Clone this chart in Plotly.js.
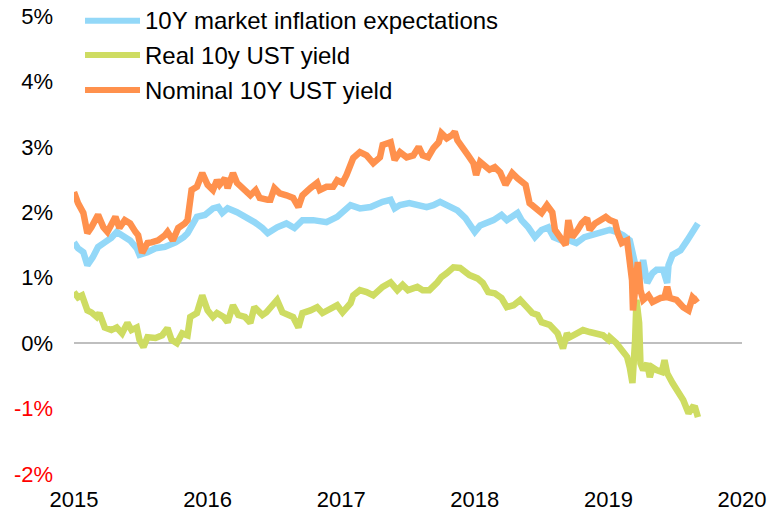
<!DOCTYPE html>
<html>
<head>
<meta charset="utf-8">
<script src="https://cdn.plot.ly/plotly-3.0.1.min.js"></script>
<style>html,body{margin:0;padding:0;background:#fff}#chart{width:771px;height:514px}</style>
</head>
<body>
<div id="chart"></div>
<script>
const seriesNames = ["10Y market inflation expectations", "Real 10y UST yield", "Nominal 10Y UST yield"];
const seriesColors = ["#93D8F8", "#CEDC62", "#FF914D"];

// Nominal 10Y UST yield (%)
const nominalX = [2015.00,2015.03,2015.07,2015.10,2015.13,2015.18,2015.22,2015.25,2015.31,2015.34,2015.38,2015.42,2015.46,2015.48,2015.51,2015.55,2015.58,2015.63,2015.68,2015.70,2015.74,2015.78,2015.83,2015.85,2015.88,2015.92,2015.96,2016.00,2016.04,2016.07,2016.09,2016.13,2016.15,2016.19,2016.22,2016.27,2016.32,2016.36,2016.39,2016.45,2016.47,2016.50,2016.54,2016.59,2016.64,2016.68,2016.71,2016.77,2016.82,2016.84,2016.89,2016.94,2016.97,2017.01,2017.04,2017.09,2017.14,2017.19,2017.24,2017.29,2017.31,2017.37,2017.40,2017.44,2017.49,2017.54,2017.58,2017.61,2017.65,2017.69,2017.73,2017.75,2017.79,2017.83,2017.85,2017.87,2017.91,2017.95,2017.99,2018.01,2018.04,2018.08,2018.11,2018.15,2018.19,2018.23,2018.28,2018.32,2018.38,2018.41,2018.47,2018.50,2018.54,2018.58,2018.60,2018.64,2018.68,2018.70,2018.73,2018.77,2018.80,2018.84,2018.86,2018.90,2018.94,2018.98,2019.01,2019.05,2019.07,2019.10,2019.14,2019.16,2019.177,2019.184,2019.21,2019.22,2019.24,2019.26,2019.30,2019.33,2019.39,2019.42,2019.44,2019.46,2019.51,2019.56,2019.60,2019.63,2019.65,2019.67];
const nominalY = [2.31,2.14,1.99,1.68,1.77,1.96,1.77,1.70,1.93,1.76,1.88,1.83,1.70,1.65,1.38,1.53,1.54,1.57,1.65,1.70,1.57,1.76,1.83,1.88,2.34,2.39,2.60,2.42,2.34,2.49,2.42,2.52,2.37,2.60,2.45,2.34,2.26,2.34,2.22,2.19,2.19,2.37,2.29,2.26,2.22,2.08,2.26,2.37,2.45,2.34,2.39,2.39,2.49,2.45,2.57,2.83,2.92,2.87,2.75,2.84,3.03,3.07,2.80,2.92,2.84,2.87,3.00,2.87,2.84,2.98,3.07,3.21,3.13,3.18,3.23,3.10,3.00,2.87,2.75,2.57,2.77,2.69,2.65,2.69,2.61,2.42,2.60,2.52,2.42,2.14,2.03,1.99,2.11,2.00,1.73,1.61,1.50,1.88,1.62,1.73,1.83,1.91,1.73,1.83,1.88,1.93,1.88,1.85,1.68,1.53,1.57,1.31,0.96,0.50,1.07,1.24,0.81,0.66,0.73,0.63,0.69,0.70,0.86,0.69,0.66,0.55,0.50,0.70,0.66,0.69];

// 10Y market inflation expectations (%)
const inflationX = [2015.00,2015.03,2015.07,2015.10,2015.14,2015.18,2015.23,2015.28,2015.32,2015.37,2015.42,2015.47,2015.49,2015.55,2015.61,2015.68,2015.76,2015.82,2015.85,2015.92,2015.98,2016.04,2016.08,2016.11,2016.15,2016.22,2016.29,2016.35,2016.41,2016.45,2016.52,2016.59,2016.65,2016.71,2016.79,2016.89,2016.97,2017.04,2017.07,2017.14,2017.22,2017.31,2017.37,2017.40,2017.44,2017.51,2017.59,2017.64,2017.69,2017.74,2017.79,2017.84,2017.87,2017.93,2017.96,2018.00,2018.04,2018.09,2018.14,2018.20,2018.24,2018.32,2018.35,2018.40,2018.45,2018.50,2018.55,2018.59,2018.65,2018.71,2018.76,2018.82,2018.88,2018.92,2018.99,2019.01,2019.06,2019.11,2019.16,2019.18,2019.21,2019.22,2019.26,2019.29,2019.33,2019.36,2019.41,2019.44,2019.45,2019.48,2019.54,2019.59,2019.63,2019.65,2019.67];
const inflationY = [1.54,1.45,1.39,1.19,1.31,1.47,1.54,1.61,1.70,1.62,1.57,1.45,1.35,1.39,1.45,1.47,1.54,1.62,1.68,1.93,1.96,2.06,2.08,1.99,2.06,2.00,1.93,1.85,1.76,1.68,1.77,1.83,1.76,1.88,1.88,1.85,1.93,2.06,2.11,2.06,2.08,2.16,2.19,2.06,2.11,2.14,2.11,2.08,2.11,2.16,2.11,2.06,2.03,1.91,1.80,1.70,1.80,1.83,1.88,1.96,1.88,1.99,1.88,1.77,1.62,1.73,1.77,1.62,1.57,1.57,1.53,1.62,1.65,1.68,1.73,1.73,1.70,1.65,1.57,1.42,1.12,0.81,1.27,0.92,1.07,1.12,1.12,0.92,1.19,1.35,1.42,1.57,1.68,1.76,1.83];

// Real 10y UST yield (%)
const realX = [2015.00,2015.03,2015.06,2015.10,2015.13,2015.17,2015.19,2015.23,2015.28,2015.32,2015.36,2015.40,2015.43,2015.47,2015.49,2015.52,2015.55,2015.61,2015.66,2015.70,2015.73,2015.77,2015.81,2015.85,2015.87,2015.92,2015.96,2016.00,2016.04,2016.07,2016.12,2016.15,2016.19,2016.23,2016.28,2016.32,2016.35,2016.41,2016.44,2016.48,2016.52,2016.56,2016.60,2016.64,2016.68,2016.71,2016.77,2016.82,2016.86,2016.92,2016.97,2017.01,2017.07,2017.09,2017.14,2017.19,2017.24,2017.31,2017.37,2017.42,2017.46,2017.50,2017.57,2017.61,2017.66,2017.72,2017.75,2017.79,2017.84,2017.89,2017.93,2017.96,2018.02,2018.06,2018.10,2018.15,2018.20,2018.24,2018.29,2018.34,2018.39,2018.43,2018.47,2018.50,2018.56,2018.62,2018.66,2018.69,2018.71,2018.76,2018.81,2018.86,2018.91,2018.96,2019.00,2019.01,2019.06,2019.10,2019.14,2019.16,2019.18,2019.20,2019.21,2019.23,2019.24,2019.26,2019.29,2019.31,2019.33,2019.36,2019.40,2019.42,2019.44,2019.48,2019.51,2019.56,2019.60,2019.63,2019.65,2019.67];
const realY = [0.78,0.70,0.73,0.50,0.47,0.40,0.46,0.24,0.20,0.24,0.15,0.31,0.20,0.24,0.05,-0.06,0.09,0.08,0.12,0.23,0.05,0.00,0.15,0.12,0.40,0.46,0.73,0.50,0.40,0.46,0.40,0.32,0.58,0.43,0.40,0.31,0.55,0.43,0.47,0.55,0.66,0.47,0.43,0.40,0.24,0.46,0.50,0.55,0.46,0.54,0.58,0.47,0.61,0.73,0.81,0.78,0.73,0.86,0.93,0.81,0.89,0.81,0.86,0.81,0.81,0.93,1.01,1.07,1.16,1.15,1.07,1.04,0.99,0.92,0.78,0.76,0.69,0.55,0.58,0.66,0.55,0.46,0.43,0.32,0.28,0.15,-0.08,0.15,0.09,0.15,0.20,0.17,0.15,0.12,0.05,0.09,0.00,-0.11,-0.21,-0.37,-0.61,0.05,0.66,0.31,-0.31,-0.41,-0.31,-0.52,-0.37,-0.41,-0.44,-0.26,-0.46,-0.61,-0.72,-0.87,-1.07,-0.98,-0.99,-1.13];

const yTickVals = [-2, -1, 0, 1, 2, 3, 4, 5];
const yTickText = ['<span style="color:#FF0000">-2%</span>', '<span style="color:#FF0000">-1%</span>', '0%', '1%', '2%', '3%', '4%', '5%'];
const xTickVals = [2015, 2016, 2017, 2018, 2019, 2020];
const xTickText = ['2015', '2016', '2017', '2018', '2019', '2020'];

const seriesX = [inflationX, realX, nominalX];
const seriesY = [inflationY, realY, nominalY];
const traces = seriesNames.map((n, i) => ({
  type: 'scatter', mode: 'lines', name: n,
  x: seriesX[i], y: seriesY[i],
  line: {color: seriesColors[i], width: 6.5, shape: 'linear'},
  hoverinfo: 'skip', showlegend: false
}));

const legendRowsY = [0.9897, 0.9148, 0.8384];
const shapes = seriesNames.map((n, i) => ({
  type: 'line', xref: 'paper', yref: 'paper',
  x0: 0.0165, x1: 0.0988, y0: legendRowsY[i], y1: legendRowsY[i],
  line: {color: seriesColors[i], width: 6}
}));
const annotations = seriesNames.map((n, i) => ({
  xref: 'paper', yref: 'paper', x: 0.1033, y: legendRowsY[i],
  xanchor: 'left', yanchor: 'middle', text: n, showarrow: false,
  font: {family: 'Liberation Sans, Arial, sans-serif', size: 24, color: '#000'}
}));

const layout = {
  width: 771, height: 514,
  margin: {l: 74, r: 29, t: 16, b: 40},
  paper_bgcolor: '#fff', plot_bgcolor: '#fff',
  font: {family: 'Liberation Sans, Arial, sans-serif', size: 22, color: '#000'},
  showlegend: false,
  xaxis: {
    range: [2015, 2020], tickmode: 'array', tickvals: xTickVals, ticktext: xTickText,
    showgrid: false, zeroline: false, showline: false, ticks: '',
    ticklabelstandoff: 10, fixedrange: true
  },
  yaxis: {
    range: [-2, 5], tickmode: 'array', tickvals: yTickVals, ticktext: yTickText,
    showgrid: false, zeroline: true, zerolinecolor: '#BFBFBF', zerolinewidth: 2,
    showline: false, ticks: '', ticklabelstandoff: 20, fixedrange: true
  },
  shapes: shapes, annotations: annotations
};

Plotly.newPlot('chart', traces, layout, {staticPlot: true, displayModeBar: false});
</script>
</body>
</html>
